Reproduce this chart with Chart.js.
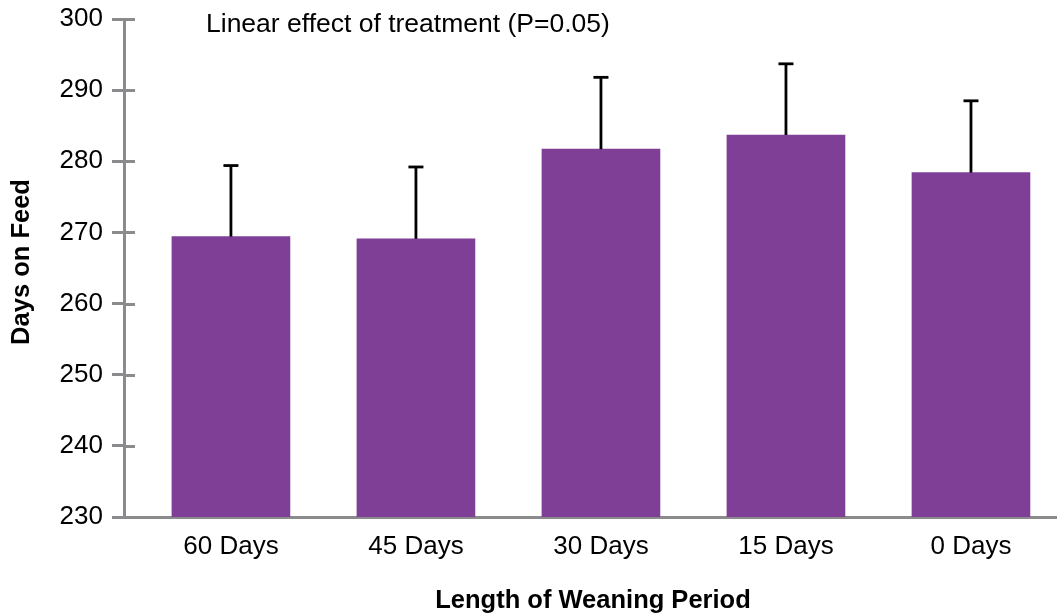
<!DOCTYPE html>
<html><head><meta charset="utf-8">
<script src="https://cdn.jsdelivr.net/npm/chart.js@4"></script>
<style>html,body{margin:0;padding:0;background:#fff;overflow:hidden}#wrap{width:1057px;height:616px;position:relative}</style>
</head><body><div id="wrap"><canvas id="c" width="1057" height="616"></canvas></div>
<script>
const categories = ['60 Days', '45 Days', '30 Days', '15 Days', '0 Days'];
const means = [269.4, 269.1, 281.7, 283.7, 278.4];
const errors = [10.0, 10.1, 10.1, 10.0, 10.1];
const yTicks = [230, 240, 250, 260, 270, 280, 290, 300];
const noteText = 'Linear effect of treatment (P=0.05)';
const xTitle = 'Length of Weaning Period';
const yTitle = 'Days on Feed';

const FONT = "'Liberation Sans', Arial, Helvetica, sans-serif";
const AXIS = '#8b8b8d';
const BAR = '#7f3f97';

const extras = {
  id: 'extras',
  afterDraw(chart) {
    const ctx = chart.ctx;
    const ys = chart.scales.y;
    const ca = chart.chartArea;
    ctx.save();
    ctx.strokeStyle = AXIS;
    ctx.lineWidth = 3;
    yTicks.forEach(v => {
      const y = Math.round(ys.getPixelForValue(v)) + 0.5;
      ctx.beginPath();
      ctx.moveTo(ca.left, y);
      ctx.lineTo(ca.left + 11, y);
      ctx.stroke();
    });
    ctx.fillStyle = '#000';
    ctx.font = `26.5px ${FONT}`;
    ctx.textAlign = 'left';
    ctx.textBaseline = 'alphabetic';
    ctx.fillText(noteText, 206, 32);
    ctx.font = `bold 25.5px ${FONT}`;
    ctx.textAlign = 'center';
    ctx.textBaseline = 'middle';
    ctx.fillText(xTitle, 593, 601);
    ctx.translate(22, 262);
    ctx.rotate(-Math.PI / 2);
    ctx.fillText(yTitle, 0, 0);
    ctx.restore();
  },
  afterDatasetsDraw(chart) {
    const ctx = chart.ctx;
    const ys = chart.scales.y;
    const meta = chart.getDatasetMeta(0);
    ctx.save();
    ctx.strokeStyle = '#000';
    ctx.lineWidth = 2.8;
    meta.data.forEach((el, i) => {
      const x = el.x;
      const yTop = ys.getPixelForValue(means[i] + errors[i]);
      ctx.beginPath();
      ctx.moveTo(x, el.y);
      ctx.lineTo(x, yTop);
      ctx.stroke();
      ctx.beginPath();
      ctx.moveTo(x - 7.5, yTop);
      ctx.lineTo(x + 7.5, yTop);
      ctx.stroke();
    });
    ctx.restore();
  }
};

new Chart(document.getElementById('c'), {
  type: 'bar',
  data: {
    datasets: [{
      data: means.map((v, i) => ({ x: i, y: v })),
      backgroundColor: BAR,
      borderWidth: 0,
      barThickness: 118
    }]
  },
  options: {
    responsive: false,
    animation: false,
    devicePixelRatio: 1,
    layout: { padding: { top: 19, right: 0, left: 0, bottom: 0 } },
    plugins: { legend: { display: false }, tooltip: { enabled: false }, title: { display: false } },
    scales: {
      x: {
        type: 'linear',
        offset: false,
        grace: 0,
        min: -0.578,
        max: 4.465,
        afterBuildTicks: s => { s.ticks = categories.map((_, i) => ({ value: i })); },
        afterFit: s => { s.height = 99; s.paddingLeft = 0; s.paddingRight = 0; },
        grid: { display: false, drawTicks: false, offset: false },
        border: { display: true, color: AXIS, width: 3 },
        ticks: {
          color: '#000',
          font: { family: FONT, size: 26 },
          padding: 14,
          autoSkip: false,
          maxRotation: 0,
          callback: v => categories[v]
        }
      },
      y: {
        min: 230,
        max: 300,
        afterBuildTicks: s => { s.ticks = yTicks.map(v => ({ value: v })); },
        afterFit: s => { s.width = 124; s.paddingTop = 0; s.paddingBottom = 0; },
        grid: { display: true, drawOnChartArea: false, drawTicks: true, tickLength: 12, color: AXIS, lineWidth: 3 },
        border: { display: true, color: AXIS, width: 3 },
        ticks: {
          color: '#000',
          font: { family: FONT, size: 26 },
          padding: 9
        }
      }
    }
  },
  plugins: [extras]
});
</script>
</body></html>
